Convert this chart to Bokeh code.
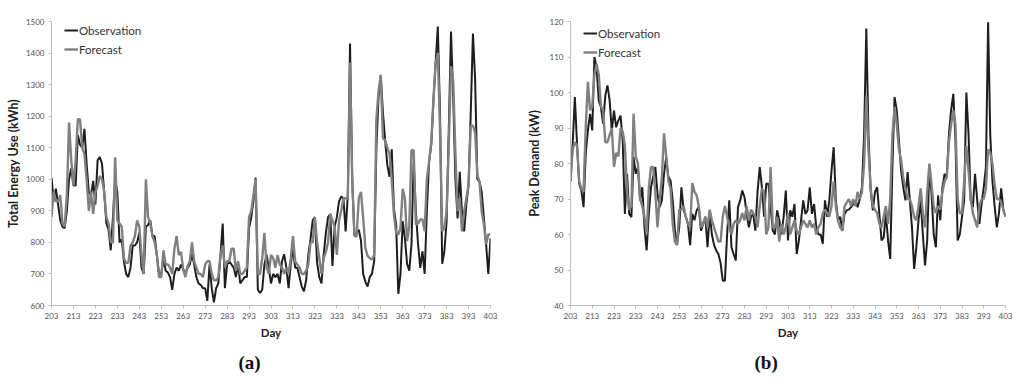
from bokeh.plotting import figure
from bokeh.models import Range1d, FixedTicker, Title
from bokeh.layouts import row
from bokeh.embed import file_html
from bokeh.resources import INLINE

days = list(range(203, 404))

energy_obs = [
    1005, 930, 970, 920, 870, 850, 845, 900, 1000, 1035,
    980, 980, 1140, 1110, 1100, 1160, 1050, 960, 950, 995,
    920, 1060, 1070, 1050, 960, 860, 840, 775, 880, 1000,
    960, 800, 810, 740, 700, 690, 720, 790, 790, 800,
    830, 720, 700, 850, 855, 870, 820, 820, 760, 700,
    700, 750, 710, 705, 690, 650, 700, 720, 710, 730,
    715, 700, 720, 730, 762, 730, 690, 670, 665, 655,
    655, 615, 730, 655, 610, 655, 670, 760, 860, 655,
    730, 740, 730, 720, 690, 730, 670, 680, 690, 690,
    845, 880, 930, 1005, 650, 640, 650, 730, 760, 720,
    670, 700, 690, 700, 670, 740, 762, 720, 655, 730,
    780, 720, 720, 690, 660, 645, 680, 760, 810, 870,
    880, 735, 690, 670, 760, 830, 880, 890, 725, 850,
    880, 930, 945, 940, 835, 950, 1430, 1000, 820, 830,
    840, 805, 700, 675, 660, 690, 700, 741, 1100, 1260,
    1330, 1210, 1124, 1045, 1008, 1095, 907, 857, 637, 700,
    867, 813, 732, 710, 794, 1055, 898, 794, 719, 772,
    700, 898, 1055, 1108, 1250, 1368, 1484, 1211, 732, 772,
    867, 1158, 1468, 1264, 1001, 876, 1024, 898, 835, 920,
    982, 1211, 1462, 1315, 1001, 992, 960, 876, 794, 700,
    813,
]

energy_fc = [
    880, 960, 930, 930, 950, 860, 850, 950, 1180, 1060,
    980, 1060, 1190, 1190, 1100, 1080, 1000, 900, 960, 890,
    960, 980, 1010, 1000, 960, 880, 860, 800, 800, 1070,
    870, 860, 850, 750, 735, 735, 790, 800, 820, 870,
    850, 760, 700, 1000, 880, 860, 820, 800, 760, 690,
    690, 775, 730, 730, 720, 700, 780, 820, 760, 770,
    715, 690, 725, 740, 800, 740, 720, 700, 700, 690,
    730, 740, 740, 700, 680, 680, 690, 760, 790, 720,
    740, 740, 780, 780, 710, 740, 700, 700, 710, 720,
    880, 900, 950, 1000, 700, 700, 750, 830, 720, 700,
    760, 750, 720, 760, 730, 720, 700, 720, 700, 750,
    820, 740, 730, 720, 700, 700, 710, 730, 800, 800,
    880, 800, 750, 700, 750, 770, 800, 890, 870, 850,
    760, 870, 900, 940, 940, 940, 1370, 1000, 820, 819,
    940, 960, 877, 783, 757, 750, 746, 760, 1190, 1280,
    1331, 1130, 1124, 1100, 1080, 1000, 888, 830, 825, 845,
    970, 939, 804, 850, 1092, 1092, 857, 860, 873, 873,
    835, 1000, 1055, 1117, 1250, 1368, 1400, 1158, 835, 845,
    900, 1108, 1358, 1315, 1086, 898, 939, 835, 898, 940,
    982, 1170, 1170, 1149, 1014, 992, 898, 857, 794, 825,
    825,
]

peak_obs = [
    75, 85.5, 98.7, 85.5, 74.3, 72.4, 67.7, 82.7, 89.3, 94,
    89.3, 110, 107, 97.7, 95.9, 91.2, 99.2, 102, 97.7, 89.3,
    94.9, 90.2, 92.1, 93.5, 86.5, 65.8, 77.1, 65.8, 64.9, 81.8,
    77.1, 79, 69.6, 73.3, 62, 55.5, 65.8, 73.3, 76.2, 79,
    71.5, 67.7, 69.6, 77.1, 81.8, 76.2, 75.2, 69.6, 61.1, 57.4,
    62, 73.3, 67, 65, 63, 57, 65.8, 64, 66.8, 67.7,
    61.1, 63, 65, 56.4, 65.8, 60, 57, 55.5, 54.5, 52,
    47, 47, 60, 69.6, 56.4, 54.5, 52.7, 67.7, 69.6, 72.4,
    70.5, 65.8, 62, 65, 65.8, 61.1, 72, 79, 73.3, 65,
    74.3, 74.3, 67.7, 61.1, 60, 66.8, 64, 60, 65, 72.4,
    58.3, 66.8, 65, 68.6, 54.5, 58.3, 64, 69.6, 65.8, 66.8,
    73.3, 65.8, 68.6, 62, 60, 60, 57.4, 69.6, 65, 69.6,
    78, 84.6, 69.6, 64, 65, 61.1, 65.8, 66.8, 67, 67.7,
    68.5, 69.6, 67.7, 70, 73.3, 88.4, 118, 88.4, 72.4, 66.8,
    72, 73.3, 65.8, 58.3, 59.2, 65.8, 58.3, 53.1, 79, 98.7,
    94.9, 86.5, 78, 73.3, 69.6, 77.6, 69.6, 62, 50.3, 56.4,
    64, 69.6, 60, 51.3, 58.3, 79, 71.5, 60, 56.4, 71,
    64, 73.3, 77.1, 76.2, 88.4, 95, 99.6, 86.5, 58.3, 60,
    65, 69.6, 100, 88.4, 69.6, 67.7, 77.1, 69.6, 63, 68.6,
    73.3, 79, 119.8, 88, 75, 68, 62, 66, 73, 67,
    65,
]

peak_fc = [
    75, 84, 86, 85, 75, 73, 72, 90, 103, 95,
    96, 105, 108, 105, 96, 95, 86, 86, 88, 90,
    79, 83, 82, 90, 89, 85, 72, 67, 68, 94,
    82, 80, 70, 68, 65, 60, 73, 79, 79, 72,
    62, 70, 76, 88.5, 82, 75, 73, 63, 58, 57,
    67, 67, 68, 65, 63, 62, 74.5, 72, 71, 68,
    62, 63, 65, 62, 67, 64, 62, 60, 58, 58,
    65, 68, 65, 62, 60, 63, 64, 63, 64, 66,
    64, 68, 64, 67, 66, 65, 62, 68, 73, 72,
    60, 62, 79, 62, 62, 65, 58, 63, 60, 62,
    66, 60, 62, 64, 61, 60, 62, 64, 63, 62,
    64, 62, 63, 60, 62, 63, 66, 67, 66, 65,
    68, 75, 68, 64, 62, 61, 68, 69, 70, 68,
    70, 68, 72, 70, 72, 80, 99, 84, 73, 68,
    67, 66, 63, 62, 65, 68, 63, 70, 88, 96,
    91, 84, 81, 76, 73, 70, 70, 68, 65, 64,
    68, 73, 66, 62, 72, 80, 74, 68, 66, 68,
    67, 72, 75, 76, 86, 91, 95, 91, 70, 66,
    66, 75, 85, 78, 70, 66, 64, 62, 68, 70,
    70, 73, 84, 83, 80, 74, 70, 70, 69, 67,
    65,
]

x_ticks = list(range(203, 404, 10))
energy_ticks = list(range(600, 1501, 100))
peak_ticks = list(range(40, 121, 10))

OBS_COLOR = "#1e1e1e"
FC_COLOR = "#808080"
FONT = "Lato"
FIG_W = 512
FIG_H = 383


def make_panel(obs, fc, yr, yticks, ylabel, tag, left, right, top, frame_h,
               ylab_standoff, tag_offset):
    bottom = FIG_H - top - frame_h
    p = figure(width=FIG_W, height=FIG_H, output_backend="svg", toolbar_location=None,
               x_range=Range1d(203, 403), y_range=Range1d(*yr),
               min_border_left=left, min_border_right=right,
               min_border_top=top, min_border_bottom=bottom)
    p.grid.visible = False
    p.outline_line_color = None
    p.line(days, obs, color=OBS_COLOR, line_width=2.0, legend_label="Observation")
    p.line(days, fc, color=FC_COLOR, line_width=2.4, legend_label="Forecast")

    for ax in (p.xaxis[0], p.yaxis[0]):
        ax.axis_line_color = "#bfbfbf"
        ax.major_tick_line_color = "#bfbfbf"
        ax.minor_tick_line_color = None
        ax.major_tick_in = 0
        ax.major_tick_out = 3
        ax.major_label_text_font = FONT
        ax.major_label_text_font_size = "8px"
        ax.major_label_text_color = "#555555"
        ax.axis_label_text_font = FONT
        ax.axis_label_text_font_style = "bold"
        ax.axis_label_text_color = "#222222"
    p.xaxis[0].ticker = FixedTicker(ticks=x_ticks)
    p.yaxis[0].ticker = FixedTicker(ticks=yticks)
    p.xaxis[0].axis_label = "Day"
    p.xaxis[0].axis_label_text_font_size = "11.5px"
    p.xaxis[0].axis_label_standoff = 4
    p.xaxis[0].major_label_standoff = 4
    p.yaxis[0].axis_label = ylabel
    p.yaxis[0].axis_label_text_font_size = "12.5px"
    p.yaxis[0].axis_label_standoff = ylab_standoff
    p.yaxis[0].major_label_standoff = 4

    lg = p.legend[0]
    lg.location = (13, frame_h - 38)
    lg.border_line_color = None
    lg.background_fill_alpha = 0
    lg.label_text_font = FONT
    lg.label_text_font_size = "11.5px"
    lg.label_text_color = "#333333"
    lg.glyph_width = 14
    lg.glyph_height = 14
    lg.label_height = 14
    lg.label_standoff = 1
    lg.spacing = 5
    lg.padding = 0
    lg.margin = 0

    p.add_layout(Title(text=tag, align="left", offset=tag_offset,
                       text_font="Liberation Serif",
                       text_font_size="19px", text_font_style="bold",
                       text_color="#111111", standoff=17), "below")
    return p


pa = make_panel(energy_obs, energy_fc, (600, 1500), energy_ticks,
                "Total Energy Use (kWh)", "(a)", 51, 22, 18, 287, 2, 187)
pb = make_panel(peak_obs, peak_fc, (40, 120), peak_ticks,
                "Peak Demand (kW)", "(b)", 58, 19, 21, 284, 5, 184)

layout = row(pa, pb)
open("out.html", "w").write(file_html(layout, INLINE))
